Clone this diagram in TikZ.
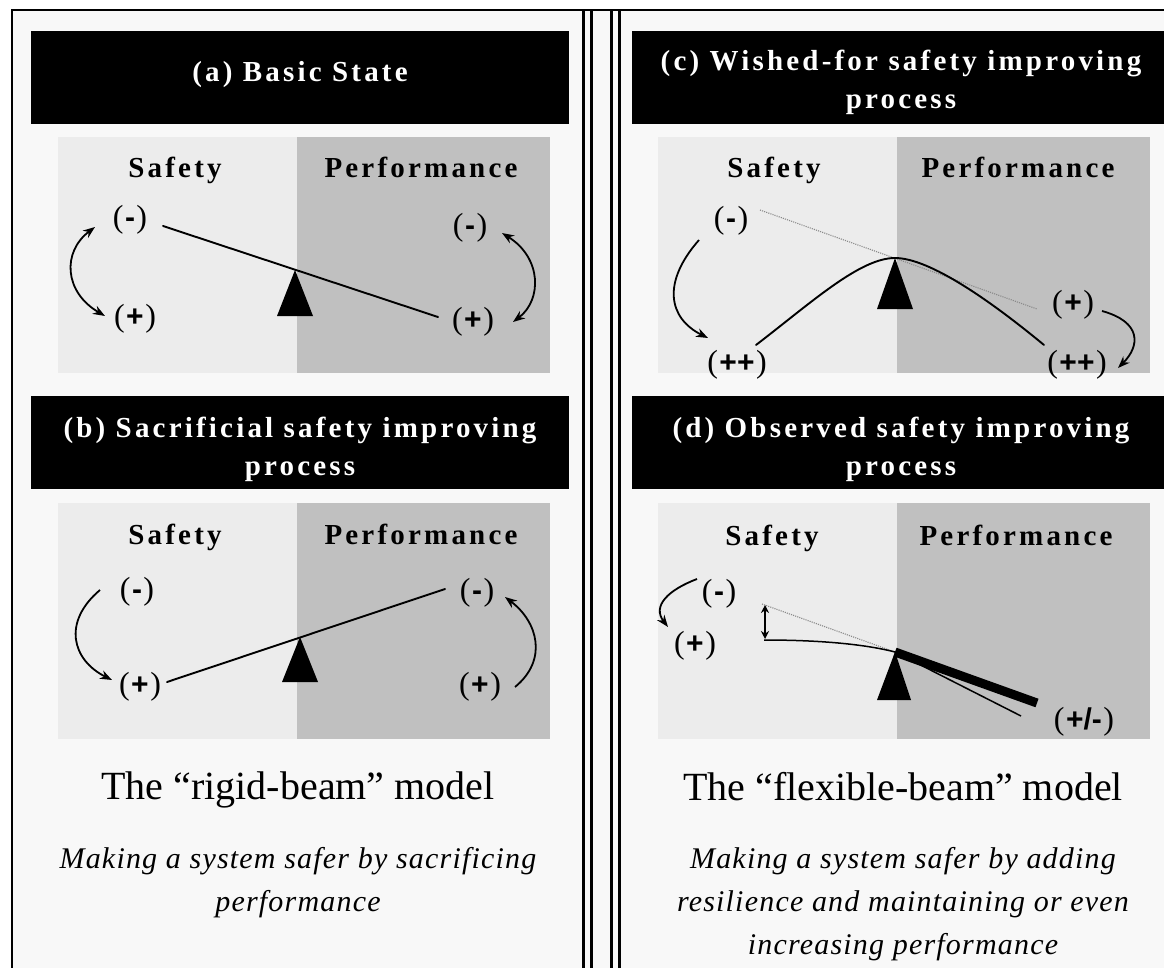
\documentclass[tikz,border=0pt]{standalone}
\usepackage{fontspec}
\setmainfont{Liberation Serif}
\setsansfont{Liberation Sans}
\newfontfamily\hdrfont{Liberation Serif}[LetterSpace=11]
\newfontfamily\notefont{Liberation Serif}[LetterSpace=4]
\usetikzlibrary{arrows.meta}

\definecolor{paper}{HTML}{F8F8F8}
\definecolor{safegrey}{HTML}{ECECEC}
\definecolor{perfgrey}{HTML}{C0C0C0}
\definecolor{dotgrey}{HTML}{8A8A8A}

\newcommand{\sgn}[1]{(\kern1.5pt{\sffamily\bfseries\fontsize{30}{30}\selectfont #1}\kern1.5pt)}

\tikzset{
  headbox/.style={fill=black, draw=none, minimum width=538pt, minimum height=93pt, inner sep=0pt},
  headtext/.style={text=white, align=center, inner sep=0pt,
    font=\hdrfont\bfseries\fontsize{29}{38}\selectfont},
  zonelabel/.style={font=\hdrfont\bfseries\fontsize{29}{30}\selectfont, anchor=base, inner sep=0pt},
  sign/.style={font=\fontsize{32}{32}\selectfont, inner sep=0pt},
  beam/.style={line width=1.9pt, line cap=round},
  ghostbeam/.style={dotgrey, line width=1.1pt, dash pattern=on 1.1pt off 1.1pt},
  swing/.style={line width=1.8pt, -{Stealth[length=12pt,width=9pt]}},
  swingboth/.style={line width=1.8pt, {Stealth[length=12pt,width=9pt]}-{Stealth[length=12pt,width=9pt]}},
  fulcrum/.style={fill=black},
  modeltitle/.style={font=\fontsize{40}{44}\selectfont, anchor=base, inner sep=0pt},
  modelnote/.style={font=\notefont\itshape\fontsize{30}{43}\selectfont, align=center, anchor=base, inner sep=0pt},
}

\begin{document}
\begin{tikzpicture}[x=1pt, y=-1pt]
\useasboundingbox (0,0) rectangle (1164,968);

% sheet and frame
\fill[white] (0,0) rectangle (1164,968);
\fill[paper] (12,10) rectangle (1164,968);
\draw[line width=2pt] (12,968) -- (12,10) -- (1164,10);
\foreach \x in {583,591,611,619}
  \draw[line width=3pt] (\x,10) -- (\x,968);

% header bars and their titles
\node[headbox] (ha) at (300,77.5) {};
\node[headbox] (hc) at (901,77.5) {};
\node[headbox] (hb) at (300,442) {};
\node[headbox] (hd) at (901,442) {};
\node[headtext] (ta) at (300,75) {(a) Basic State};
\node[headtext] (tc) at (901,82) {(c) Wished-for safety improving\\process};
\node[headtext] (tb) at (300,449) {(b) Sacrificial safety improving\\process};
\node[headtext] (td) at (901,449) {(d) Observed safety improving\\process};

% zones
\foreach \ox/\oy in {0/0, 0/366, 600/0, 600/366} {
  \fill[safegrey] (58+\ox,137+\oy) rectangle (297+\ox,373+\oy);
  \fill[perfgrey] (297+\ox,137+\oy) rectangle (550+\ox,373+\oy);
}
\node[zonelabel] (sa) at (175,178) {Safety};
\node[zonelabel] (pa) at (421,178) {Performance};
\node[zonelabel] (sb) at (175,544) {Safety};
\node[zonelabel] (pb) at (421,544) {Performance};
\node[zonelabel] (sc) at (774,178) {Safety};
\node[zonelabel] (pc) at (1018,178) {Performance};
\node[zonelabel] (sd) at (772,545) {Safety};
\node[zonelabel] (pd) at (1016,545) {Performance};

% (a) basic state
\node[sign] (am1) at (130,220) {\sgn{-}};
\node[sign] (ap1) at (135,319) {\sgn{+}};
\node[sign] (am2) at (470,228) {\sgn{-}};
\node[sign] (ap2) at (473,322) {\sgn{+}};
\coordinate (fa) at (295,270);
\fill[fulcrum] (fa) -- ++(-18,46) -- ++(36,0) -- cycle;
\coordinate (aL) at (163,226);
\coordinate (aR) at (438,317);
\draw[beam] (aL) -- (aR);
\coordinate (aw1) at (95,227);
\coordinate (aw2) at (105,316);
\draw[swingboth] (aw1) .. controls (62,252) and (64,292) .. (aw2);
\coordinate (aw3) at (502,233);
\coordinate (aw4) at (513,322);
\draw[swingboth] (aw3) .. controls (542,258) and (542,300) .. (aw4);

% (b) sacrificial process
\node[sign] (bm1) at (137,592) {\sgn{-}};
\node[sign] (bp1) at (140,687) {\sgn{+}};
\node[sign] (bm2) at (477,593) {\sgn{-}};
\node[sign] (bp2) at (480,687) {\sgn{+}};
\coordinate (fb) at (300,637);
\fill[fulcrum] (fb) -- ++(-18,45) -- ++(36,0) -- cycle;
\coordinate (bL) at (167,682);
\coordinate (bR) at (445,589);
\draw[beam] (bL) -- (bR);
\coordinate (bw1) at (100,590);
\coordinate (bw2) at (112,680);
\draw[swing] (bw1) .. controls (62,622) and (72,660) .. (bw2);
\coordinate (bw3) at (515,687);
\coordinate (bw4) at (505,597);
\draw[swing] (bw3) .. controls (548,660) and (538,622) .. (bw4);

% (c) wished-for process
\node[sign] (cm1) at (731,221) {\sgn{-}};
\node[sign] (cq1) at (737,365) {\sgn{++}};
\node[sign] (cp2) at (1073,305) {\sgn{+}};
\node[sign] (cq2) at (1077,365) {\sgn{++}};
\coordinate (fc) at (895,258);
\fill[fulcrum] (fc) -- ++(-18,51) -- ++(36,0) -- cycle;
\coordinate (cL) at (760,210);
\coordinate (cR) at (1037,309);
\draw[ghostbeam] (cL) -- (cR);
\coordinate (cB1) at (756,345);
\coordinate (cB2) at (1044,345);
\draw[beam] (cB1) .. controls (812,302) and (860,258) .. (fc)
  .. controls (930,258) and (992,302) .. (cB2);
\coordinate (cw1) at (699,240);
\coordinate (cw2) at (708,338);
\draw[swing] (cw1) .. controls (662,282) and (668,318) .. (cw2);
\coordinate (cw3) at (1102,311);
\coordinate (cw4) at (1118,368);
\draw[swing] (cw3) .. controls (1142,322) and (1140,346) .. (cw4);

% (d) observed process
\node[sign] (dm1) at (719,594) {\sgn{-}};
\node[sign] (dp1) at (695,646) {\sgn{+}};
\node[sign] (dpm) at (1084,722) {\sgn{+/-}};
\coordinate (fd) at (895,652);
\fill[fulcrum] (fd) -- ++(-18,48) -- ++(34,0) -- cycle;
\coordinate (dL) at (762,604);
\draw[ghostbeam] (dL) -- (fd);
\coordinate (dB1) at (764,640);
\coordinate (dT) at (1021,716);
\draw[line width=1.5pt] (dB1) .. controls (825,640) and (868,645) .. (fd) -- (dT);
\coordinate (dK) at (1037,703);
\draw[line width=9pt] (fd) -- (dK);
\coordinate (dg1) at (765,605);
\coordinate (dg2) at (765,639);
\draw[line width=1.4pt, {Stealth[length=8pt,width=8pt]}-{Stealth[length=8pt,width=8pt]}] (dg1) -- (dg2);
\coordinate (dw1) at (697,579);
\coordinate (dw2) at (668,627);
\draw[swing] (dw1) .. controls (668,590) and (652,606) .. (dw2);

% model captions
\node[modeltitle] (rigid) at (298,799) {The “rigid-beam” model};
\node[modelnote] (rigidnote) at (298,911) {Making a system safer by sacrificing\\performance};
\node[modeltitle] (flex) at (903,800) {The “flexible-beam” model};
\node[modelnote] (flexnote) at (903,954) {Making a system safer by adding\\resilience and maintaining or even\\increasing performance};
\end{tikzpicture}
\end{document}
